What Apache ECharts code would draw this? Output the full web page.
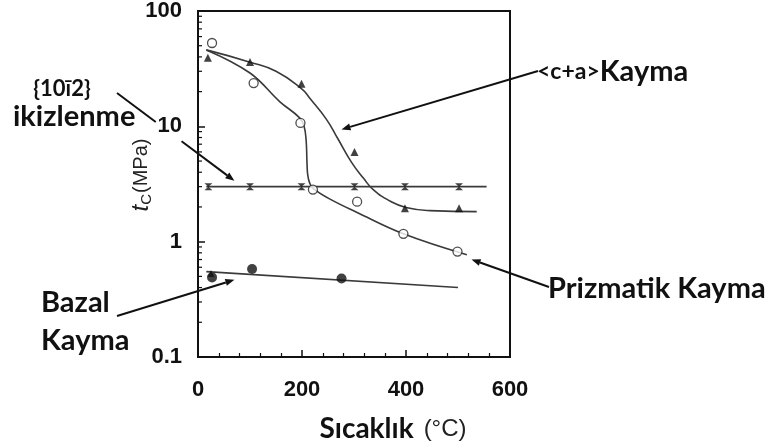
<!DOCTYPE html>
<html><head><meta charset="utf-8">
<script src="https://cdn.jsdelivr.net/npm/echarts@6/dist/echarts.min.js"></script>
<style>html,body{margin:0;padding:0;background:#fff}#c{width:771px;height:448px}</style>
</head><body><div id="c"></div>
<script>
// axis ticks
const xTicks = [0, 200, 400, 600];
const yTicks = [0.1, 1, 10, 100];
const yMinorTicks = [0.2, 0.3, 0.4, 0.5, 0.6, 0.7, 0.8, 0.9, 2, 3, 4, 5, 6, 7, 8, 9, 20, 30, 40, 50, 60, 70, 80, 90];
// <c+a> slip: filled triangles and fitted curve
const caX = [19, 100, 199, 301, 398, 502];
const caY = [39.4, 36.2, 23.4, 6.0, 1.95, 1.95];
const caCurveX = [16, 100, 150, 200, 215, 247, 269, 295, 318, 337, 369, 400, 446, 536];
const caCurveY = [46, 36, 30, 21, 17.5, 11.5, 7.8, 4.9, 3.56, 2.83, 2.25, 1.98, 1.86, 1.82];
// prismatic slip: open circles and fitted curve
const prX = [27, 107, 197, 221, 306, 395, 499];
const prY = [52.8, 23.7, 10.7, 2.83, 2.22, 1.17, 0.82];
const prCurveX = [16, 100, 157, 195, 204, 208, 209.5, 211, 215, 221, 253, 305, 395, 517];
const prCurveY = [46, 29, 16.4, 11.9, 10, 7.5, 5, 3.8, 3.2, 2.9, 2.35, 1.8, 1.17, 0.77];
// {10-12} twinning: hourglass markers and line
const twX = [20, 100, 199, 301, 398, 502];
const twY = [3, 3, 3, 3, 3, 3];
const twLineX = [16, 555];
const twLineY = [3, 3];
// basal slip: filled circles and line
const baX = [27, 104, 276];
const baY = [0.49, 0.58, 0.48];
const baExtraX = [25];
const baExtraY = [0.53];
const baLineX = [16, 500];
const baLineY = [0.55, 0.40];
// annotation arrow tips (data units)
const tipCa = [276, 9.4];
const tipTw = [70, 3.37];
const tipBa = [70, 0.467];
const tipPr = [526, 0.70];

const zip = (a, b) => a.map((v, i) => [v, b[i]]);
const INK = '#111';
const CURVE = '#3a3a3a';
const chart = echarts.init(document.getElementById('c'), null, {renderer: 'canvas'});
const hourglass = 'path://M0,0 L10,0 L0,10 L10,10 Z';

chart.setOption({
  animation: false,
  backgroundColor: '#fff',
  grid: {left: 198, right: 261, top: 8, bottom: 85, show: true, borderColor: INK, borderWidth: 2},
  xAxis: {
    type: 'value', min: xTicks[0], max: xTicks[xTicks.length - 1], interval: 200,
    axisLine: {show: true, lineStyle: {color: INK, width: 2}},
    axisTick: {show: true, inside: true, length: 7, lineStyle: {color: INK, width: 1.5}},
    minorTick: {show: true, splitNumber: 5, length: 4, lineStyle: {color: INK, width: 1.2}},
    splitLine: {show: false},
    axisLabel: {fontFamily: 'Liberation Sans', fontWeight: 'bold', fontSize: 22, color: INK, margin: 22,
      formatter: v => xTicks.includes(v) ? String(v) : ''},
    name: '{a|Sıcaklık}{b|(°C)}', nameLocation: 'middle', nameGap: 58,
    nameTextStyle: {padding: [0, 0, 0, 78], rich: {
      a: {fontFamily: 'Lato', fontWeight: 'bold', fontSize: 28, color: INK},
      b: {fontFamily: 'Liberation Sans', fontSize: 24, color: '#222', padding: [0, 0, 0, 10]}
    }}
  },
  yAxis: {
    type: 'log', logBase: 10, min: yTicks[0], max: yTicks[yTicks.length - 1],
    axisLine: {show: true, lineStyle: {color: INK, width: 2}},
    axisTick: {show: true, inside: true, length: 7, lineStyle: {color: INK, width: 1.5}},
    splitLine: {show: false},
    axisLabel: {fontFamily: 'Liberation Sans', fontWeight: 'bold', fontSize: 22, color: INK, margin: 16,
      formatter: v => { const t = yTicks.find(k => Math.abs(k - v) / k < 1e-6); return t === undefined ? '' : String(t); }},
    name: '{t|t}{s|C}{n|(MPa)}', nameLocation: 'middle', nameGap: 44, nameMoveOverlap: false,
    nameTextStyle: {padding: [0, 0, 0, 18], rich: {
      t: {fontFamily: 'Liberation Sans', fontStyle: 'italic', fontSize: 24, color: '#222'},
      s: {fontFamily: 'Liberation Sans', fontSize: 15, color: '#222', padding: [10, 1, 0, 0]},
      n: {fontFamily: 'Liberation Sans', fontSize: 20, color: '#222'}
    }}
  },
  series: [
    {type: 'custom', data: yMinorTicks.map(v => [xTicks[0], v]), clip: false, z: 4,
      renderItem: (params, api) => {
        const p = api.coord([api.value(0), api.value(1)]);
        return {type: 'line', shape: {x1: p[0], y1: p[1], x2: p[0] + 4, y2: p[1]},
          style: {stroke: INK, lineWidth: 1.2}};
      }},
    {type: 'line', data: zip(caCurveX, caCurveY), smooth: 0.5, showSymbol: false,
      lineStyle: {color: CURVE, width: 1.6}, z: 2},
    {type: 'line', data: zip(prCurveX, prCurveY), smooth: 0.4, showSymbol: false,
      lineStyle: {color: CURVE, width: 1.6}, z: 2},
    {type: 'line', data: zip(twLineX, twLineY), showSymbol: false, lineStyle: {color: CURVE, width: 1.6}, z: 2},
    {type: 'line', data: zip(baLineX, baLineY), showSymbol: false, lineStyle: {color: CURVE, width: 1.6}, z: 2},
    {type: 'scatter', data: zip(caX, caY), symbol: 'triangle', symbolSize: 8, itemStyle: {color: INK}, z: 3},
    {type: 'scatter', data: zip(prX, prY), symbol: 'circle', symbolSize: 9,
      itemStyle: {color: '#fff', borderColor: '#222', borderWidth: 1.3}, z: 3},
    {type: 'scatter', data: zip(twX, twY), symbol: hourglass, symbolSize: [8, 7], itemStyle: {color: INK}, z: 3},
    {type: 'scatter', data: zip(baX, baY), symbol: 'circle', symbolSize: 10, itemStyle: {color: INK}, z: 3},
    {type: 'scatter', data: zip(baExtraX, baExtraY), symbol: 'triangle', symbolSize: 7, itemStyle: {color: INK}, z: 3}
  ]
});

function arrowEls(tail, tipData, gaps) {
  const tip = chart.convertToPixel({gridIndex: 0}, tipData);
  const dx = tip[0] - tail[0], dy = tip[1] - tail[1];
  const L = Math.hypot(dx, dy), ux = dx / L, uy = dy / L;
  const hl = 9, hw = 3.5;
  const base = [tip[0] - ux * hl, tip[1] - uy * hl];
  const els = [];
  const pieces = gaps || [[0, 1]];
  pieces.forEach(([a, b]) => {
    const p1 = [tail[0] + dx * a, tail[1] + dy * a];
    let p2 = [tail[0] + dx * b, tail[1] + dy * b];
    if (b === 1) p2 = base;
    els.push({type: 'line', shape: {x1: p1[0], y1: p1[1], x2: p2[0], y2: p2[1]},
      style: {stroke: INK, lineWidth: 2}, z: 10});
  });
  els.push({type: 'polygon', shape: {points: [tip, [base[0] - uy * hw, base[1] + ux * hw], [base[0] + uy * hw, base[1] - ux * hw]]},
    style: {fill: INK}, z: 10});
  return els;
}

const bold = sz => 'bold ' + sz + 'px Lato';
const txt = (text, x, y, font, align) => ({type: 'text', z: 10,
  style: {text: text, x: x, y: y, font: font, fill: INK, align: align || 'left', verticalAlign: 'middle'}});

chart.setOption({graphic: [
  ...arrowEls([538, 71], tipCa),
  ...arrowEls([117, 93], tipTw, [[0, 0.33], [0.55, 1]]),
  ...arrowEls([117, 316], tipBa),
  ...arrowEls([549, 287], tipPr),
  {type: 'text', z: 10, style: {text: '{a|<c+a>}{b|Kayma}', x: 537, y: 72, verticalAlign: 'middle', align: 'left',
    rich: {a: {font: 'bold 23px Lato', fill: INK}, b: {font: 'bold 29px Lato', fill: INK}}}},
  txt('Prizmatik Kayma', 548, 289, bold(29)),
  txt('Bazal', 41, 303, bold(29)),
  txt('Kayma', 41, 341, bold(29)),
  txt('{10ī2}', 62, 89, bold(22), 'center'),
  txt('ikizlenme', 13, 117, bold(29))
]});
</script></body></html>
